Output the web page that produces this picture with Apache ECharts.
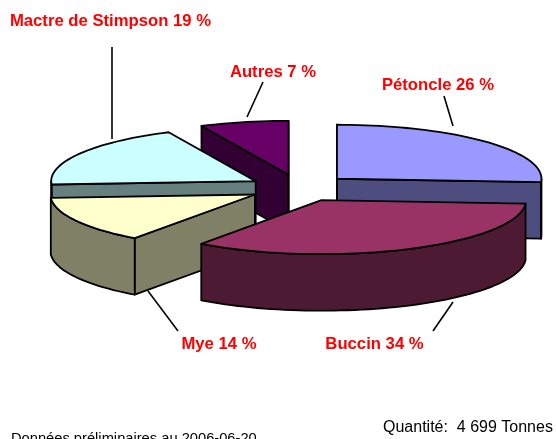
<!DOCTYPE html>
<html><head><meta charset="utf-8">
<style>html,body{margin:0;padding:0;background:#fff;overflow:hidden}#c{width:556px;height:439px}</style>
<script src="https://cdn.jsdelivr.net/npm/echarts@6/dist/echarts.min.js"></script>
</head><body><div id="c"></div>
<script>
// Data
const categories = ['Pétoncle', 'Buccin', 'Mye', 'Mactre de Stimpson', 'Autres'];
const values = [26, 34, 14, 19, 7];
const noteDate = 'Données préliminaires au 2006-06-20';
const noteQty = 'Quantité:  4 699 Tonnes';

// Styles and layout
const topColors = ['#9999FF', '#993366', '#FFFFCC', '#CCFFFF', '#660066'];
const sideColors = ['#4D4D80', '#4D1A33', '#808066', '#668080', '#330033'];
const paintOrder = [1, 4, 3, 2, 0]; // back-to-front rank per slice (higher on top)
const labelAnchors = [[110.5, 21], [273, 72], [438, 85], [374.5, 344], [219, 344]];
const labelOrder = [2, 3, 4, 0, 1]; // index into labelAnchors per slice
const leaders = [[[444, 96], [453, 126]], [[453, 302], [433, 331]], [[148, 291], [178, 331]], [[112, 47], [112, 139]], [[263, 82], [247, 117]]];
const cx = 299.7, cy = 188, rx = 204.5, ry = 54, depth = 56.5, explode = 0.25;

const total = values.reduce((a, b) => a + b, 0);
const spans = []; let acc = 0;
values.forEach(v => { spans.push([acc / total * 360, (acc + v) / total * 360]); acc += v; });
const rad = d => d * Math.PI / 180;

function arc(ox, oy, a0, a1, dy) {
  const n = Math.max(2, Math.ceil((a1 - a0) / 2)), pts = [];
  for (let i = 0; i <= n; i++) {
    const a = rad(a0 + (a1 - a0) * i / n);
    pts.push([ox + rx * Math.sin(a), oy - ry * Math.cos(a) + dy]);
  }
  return pts;
}
function poly(points, fill, z2) {
  return { type: 'polygon', z2, shape: { points }, style: { fill, stroke: '#000', lineWidth: 1.8, lineJoin: 'round' } };
}
function renderSlice(params, api) {
  const i = params.dataIndex;
  const [a0, a1] = spans[i];
  const m = rad((a0 + a1) / 2);
  const ox = cx + explode * rx * Math.sin(m), oy = cy - explode * ry * Math.cos(m);
  const base = paintOrder[i] * 10, side = sideColors[i], kids = [];
  const at = a => arc(ox, oy, a, a, 0)[0];
  const cut = a => { const p = at(a); return [[ox, oy], p, [p[0], p[1] + depth], [ox, oy + depth]]; };
  if (a0 >= 180 && a0 < 360) kids.push(poly(cut(a0), side, base));
  if (a1 > 0 && a1 <= 180) kids.push(poly(cut(a1), side, base));
  if (a1 >= 359.9) kids.push(poly(cut(360), side, base));
  if (a0 < 0.1) kids.push(poly(cut(0), side, base));
  const w0 = Math.max(a0, 90), w1 = Math.min(a1, 270);
  if (w1 > w0) {
    kids.push(poly(arc(ox, oy, w0, w1, 0).concat(arc(ox, oy, w0, w1, depth).reverse()), side, base + 1));
  }
  kids.push(poly([[ox, oy]].concat(arc(ox, oy, a0, a1, 0)), topColors[i], base + 2));
  // leader and label
  const l = leaders[i], anchor = labelAnchors[labelOrder[i]];
  kids.push({ type: 'line', z2: 100, shape: { x1: l[0][0], y1: l[0][1], x2: l[1][0], y2: l[1][1] }, style: { stroke: '#000', lineWidth: 1.6 } });
  kids.push({ type: 'text', z2: 101, x: anchor[0], y: anchor[1],
    style: { text: categories[i] + ' ' + api.value(0) + ' %', fill: '#FF0000', font: 'bold 16.7px "Liberation Sans", Arial, sans-serif', align: 'center', verticalAlign: 'middle' } });
  return { type: 'group', children: kids };
}
const chart = echarts.init(document.getElementById('c'), null, { renderer: 'canvas' });
chart.setOption({
  animation: false,
  backgroundColor: '#fff',
  graphic: [
    { type: 'text', x: 11, y: 439, style: { text: noteDate, fill: '#000', font: '14.7px "Liberation Sans", Arial, sans-serif', verticalAlign: 'middle' } },
    { type: 'text', x: 383, y: 428, style: { text: noteQty, fill: '#000', font: '16px "Liberation Sans", Arial, sans-serif', verticalAlign: 'middle' } }
  ],
  series: [{
    type: 'custom', coordinateSystem: 'none', silent: true,
    data: values.map(v => [v]),
    renderItem: renderSlice
  }]
});
</script></body></html>
